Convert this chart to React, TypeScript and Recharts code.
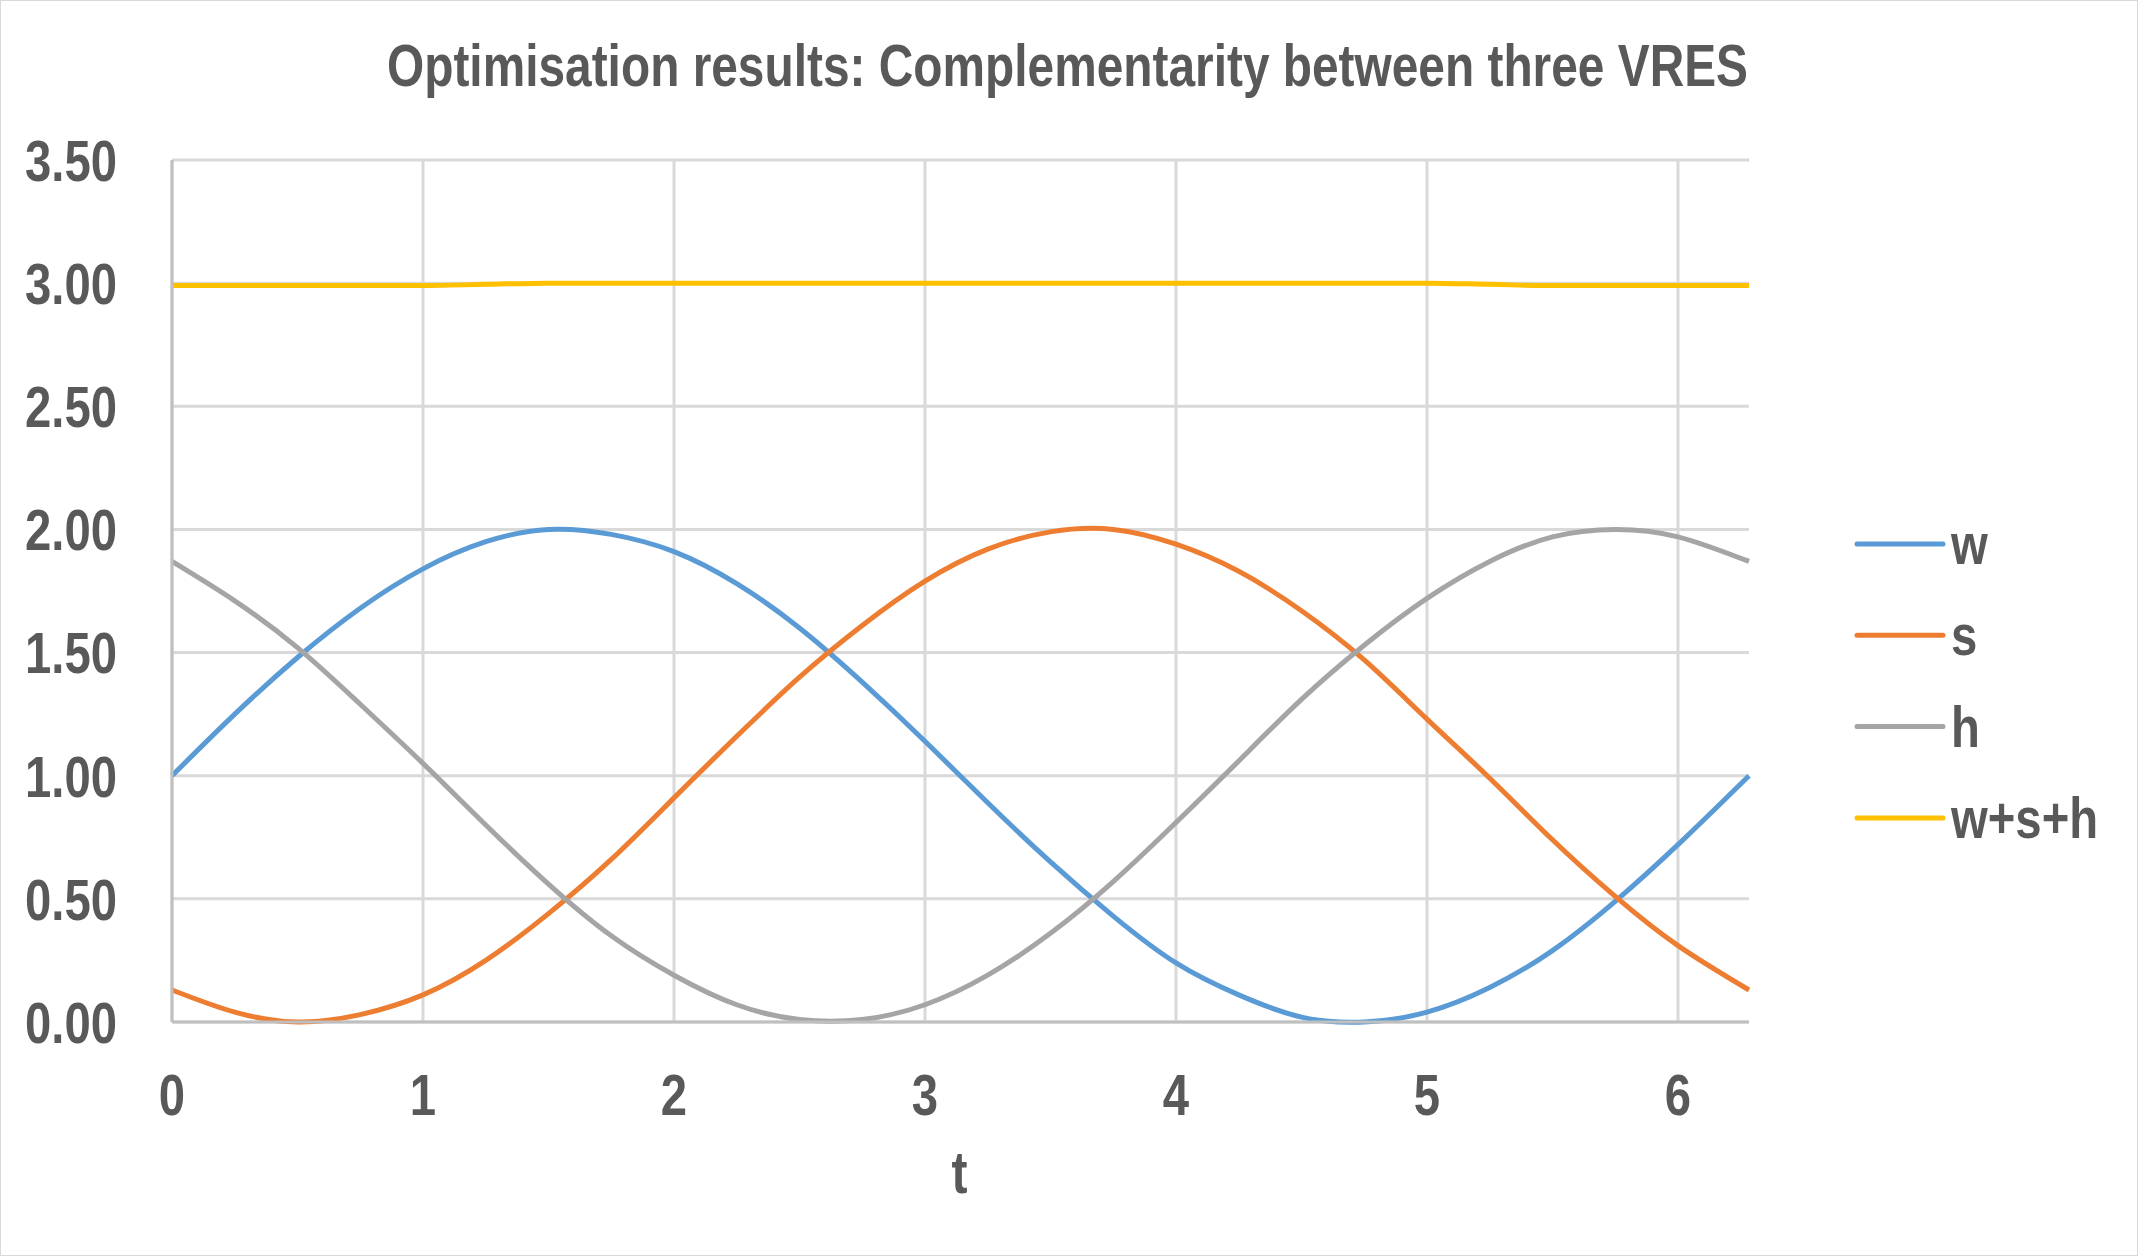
import * as React from 'react';
import {
  LineChart,
  Line,
  XAxis,
  YAxis,
  CartesianGrid,
  Legend,
} from 'recharts';

// sample points along t (0 .. 2π)
const tValues = [0, 0.25, 0.5, 0.75, 1, 1.25, 1.5, 1.75, 2, 2.25, 2.5, 2.75, 3, 3.25, 3.5, 3.75, 4, 4.25, 4.5, 4.75, 5, 5.25, 5.5, 5.75, 6, 6.283];

const wValues = [1.0, 1.25, 1.48, 1.68, 1.84, 1.95, 2.0, 1.98, 1.91, 1.78, 1.6, 1.38, 1.14, 0.89, 0.65, 0.43, 0.24, 0.11, 0.02, 0.0, 0.04, 0.14, 0.29, 0.49, 0.72, 1.0];
const sValues = [0.13, 0.04, 0.0, 0.03, 0.11, 0.25, 0.44, 0.66, 0.91, 1.16, 1.4, 1.61, 1.79, 1.92, 1.99, 2.0, 1.94, 1.83, 1.67, 1.47, 1.23, 0.99, 0.74, 0.51, 0.31, 0.13];
const hValues = [1.87, 1.71, 1.52, 1.29, 1.05, 0.8, 0.56, 0.35, 0.19, 0.07, 0.01, 0.01, 0.07, 0.19, 0.36, 0.57, 0.81, 1.06, 1.31, 1.53, 1.72, 1.87, 1.97, 2.0, 1.97, 1.87];
const totalValues = [2.99, 2.99, 2.99, 2.99, 2.99, 2.995, 3.0, 3.0, 3.0, 3.0, 3.0, 3.0, 3.0, 3.0, 3.0, 3.0, 3.0, 3.0, 3.0, 3.0, 3.0, 2.995, 2.99, 2.99, 2.99, 2.99];

const seriesKeys = ['w', 's', 'h', 'sum'];
const seriesNames = ['w', 's', 'h', 'w+s+h'];
const seriesColors = ['#5b9bd5', '#ed7d31', '#a5a5a5', '#ffc000'];

const xTicks = [0, 1, 2, 3, 4, 5, 6];
const yTicks = [0, 0.5, 1, 1.5, 2, 2.5, 3, 3.5];

const title = 'Optimisation results: Complementarity between three VRES';

const data = tValues.map((t, i) => ({
  t,
  w: wValues[i],
  s: sValues[i],
  h: hValues[i],
  sum: totalValues[i],
}));

const FONT = "'Liberation Sans', Arial, sans-serif";
const TEXT = '#595959';
// narrow the regular face to an Arial Narrow-like width
const NARROW = 'scale(0.815,1)';

const YTick = (props: any) => {
  const { x, y, payload } = props;
  return (
    <g transform={`translate(${x},${y})`}>
      <text transform={NARROW} dy="0.36em" textAnchor="end" fontFamily={FONT} fontWeight="bold" fontSize={58} fill={TEXT}>
        {Number(payload.value).toFixed(2)}
      </text>
    </g>
  );
};

const XTick = (props: any) => {
  const { x, y, payload } = props;
  return (
    <g transform={`translate(${x},${y + 93})`}>
      <text transform={NARROW} textAnchor="middle" fontFamily={FONT} fontWeight="bold" fontSize={58} fill={TEXT}>
        {payload.value}
      </text>
    </g>
  );
};

const AxisTitle = (props: any) => {
  const vb = props.viewBox || {};
  return (
    <g transform={`translate(${vb.x + vb.width / 2 - 1},${vb.y + 171})`}>
      <text transform={NARROW} textAnchor="middle" fontFamily={FONT} fontWeight="bold" fontSize={59} fill={TEXT}>
        t
      </text>
    </g>
  );
};

const renderLegend = () => (
  <svg width={290} height={380}>
    {seriesNames.map((name, i) => {
      const y = 54 + i * 91.3;
      return (
        <g key={name}>
          <line x1={17} x2={103} y1={y} y2={y} stroke={seriesColors[i]} strokeWidth={5} strokeLinecap="round" />
          <g transform={`translate(111,${y + 20})`}>
            <text transform={NARROW} fontFamily={FONT} fontWeight="bold" fontSize={58} fill={TEXT}>
              {name}
            </text>
          </g>
        </g>
      );
    })}
  </svg>
);

export default function App() {
  return (
    <div
      style={{
        position: 'absolute',
        left: 0,
        top: 0,
        width: 2138,
        height: 1256,
        boxSizing: 'border-box',
        border: '1px solid #d9d9d9',
        background: '#fff',
      }}
    >
      <LineChart width={2136} height={1254} data={data} margin={{ top: 159, right: 388, left: 0, bottom: 0 }}>
        <text
          x={1066.5}
          y={85}
          textAnchor="middle"
          textLength={1361}
          lengthAdjust="spacingAndGlyphs"
          fontFamily={FONT}
          fontWeight="bold"
          fontSize={59}
          fill={TEXT}
        >
          {title}
        </text>
        <CartesianGrid stroke="#d9d9d9" strokeWidth={3} verticalValues={xTicks} horizontalValues={yTicks} />
        <XAxis
          dataKey="t"
          type="number"
          domain={[0, 6.283]}
          ticks={xTicks}
          height={233}
          tickSize={0}
          tickMargin={0}
          tick={<XTick />}
          axisLine={{ stroke: '#bfbfbf', strokeWidth: 3 }}
          label={{ value: 't', content: AxisTitle }}
        />
        <YAxis
          type="number"
          domain={[0, 3.5]}
          ticks={yTicks}
          width={171}
          tickSize={0}
          tickMargin={55}
          tick={<YTick />}
          axisLine={{ stroke: '#bfbfbf', strokeWidth: 3 }}
        />
        <Legend
          layout="horizontal"
          verticalAlign="middle"
          align="center"
          content={renderLegend}
          wrapperStyle={{ left: 1839, top: 489, width: 290, height: 380 }}
        />
        {seriesKeys.map((key, i) => (
          <Line
            key={key}
            type={key === 'sum' ? 'monotone' : 'natural'}
            dataKey={key}
            name={seriesNames[i]}
            stroke={seriesColors[i]}
            strokeWidth={5}
            dot={false}
            isAnimationActive={false}
          />
        ))}
      </LineChart>
    </div>
  );
}
